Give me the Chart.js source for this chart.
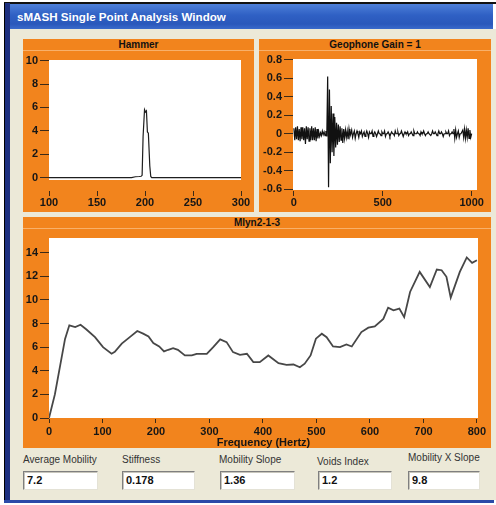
<!doctype html>
<html lang="en">
<head>
<meta charset="utf-8">
<title>sMASH Single Point Analysis Window</title>
<script src="https://cdn.jsdelivr.net/npm/chart.js@4.4.1/dist/chart.umd.min.js"></script>
<style>
  html, body { margin: 0; padding: 0; background: #fff; }
  body { position: relative; width: 496px; height: 505px; overflow: hidden; font-family: "Liberation Sans", Arial, sans-serif; }
  .abs { position: absolute; }
  #frameTop { left: 4px; top: 2px; width: 492px; height: 2px; background: #111; }
  #frameLeft { left: 4px; top: 3px; width: 6px; height: 500px; background: #1d3080; border-left: 1px solid #000; box-sizing: border-box; }
  #frameBottom { left: 4px; top: 500px; width: 490px; height: 3px; background: #2b4aa8; }
  #client { left: 10px; top: 29px; width: 486px; height: 471px; background: #ece9d8; }
  #titlebar { left: 10px; top: 4px; width: 483px; height: 25px; background: linear-gradient(to bottom, #4d7fd8, #2f60c4 45%, #2a58bb 80%, #3a6acb); color: #fff; font-weight: bold; font-size: 11.6px; line-height: 25px; padding-left: 7px; box-sizing: border-box; }
  .panel { background: #f2841d; }
  .ptitle { height: 11px; line-height: 12px; border-bottom: 1px solid #f8b06a; font-size: 10px; font-weight: bold; text-align: center; color: #111; }
  canvas { position: absolute; }
  .flabel { font-size: 10px; color: #333; line-height: 12px; white-space: nowrap; }
  .fbox { height: 19px; background: #fff; box-sizing: border-box; border: 1px solid; border-color: #7f7f7f #e4e2d6 #e4e2d6 #7f7f7f; box-shadow: inset 1px 1px 0 #c8c6bc; font-size: 11px; font-weight: bold; color: #111; line-height: 17px; padding-left: 3px; }
</style>
</head>
<body>
<div class="abs" id="client"></div>
<div class="abs" id="frameTop"></div>
<div class="abs" id="frameLeft"></div>
<div class="abs" id="frameBottom"></div>
<div class="abs" id="titlebar">sMASH Single Point Analysis Window</div>

<!-- panels -->
<div class="abs panel" style="left:23px; top:39px; width:231px; height:173px;"><div class="ptitle">Hammer</div></div>
<div class="abs panel" style="left:259px; top:39px; width:232px; height:173px;"><div class="ptitle">Geophone Gain = 1</div></div>
<div class="abs panel" style="left:23px; top:217px; width:468px; height:231px;"><div class="ptitle">Mlyn2-1-3</div></div>

<canvas id="hammer" width="231" height="162" style="left:23px; top:50px;"></canvas>
<canvas id="geo" width="232" height="162" style="left:259px; top:50px;"></canvas>
<canvas id="mlyn" width="468" height="220" style="left:23px; top:228px;"></canvas>

<!-- result fields -->
<div class="abs flabel" style="left:23px; top:454px;">Average Mobility</div>
<div class="abs flabel" style="left:122px; top:454px;">Stiffness</div>
<div class="abs flabel" style="left:219px; top:454px;">Mobility Slope</div>
<div class="abs flabel" style="left:317px; top:456px;">Voids Index</div>
<div class="abs flabel" style="left:408px; top:452px;">Mobility X Slope</div>
<div class="abs fbox" style="left:23px; top:471px; width:75px;">7.2</div>
<div class="abs fbox" style="left:122px; top:471px; width:73px;">0.178</div>
<div class="abs fbox" style="left:220px; top:471px; width:75px;">1.36</div>
<div class="abs fbox" style="left:318px; top:471px; width:74px;">1.2</div>
<div class="abs fbox" style="left:408px; top:471px; width:72px;">9.8</div>

<script>
// hammer impulse
const hammerX = [100, 186, 190, 194, 196, 197, 198, 199.5, 200.5, 201.5, 202.5, 203.5, 205, 206, 207, 300];
const hammerY = [0, 0, 0.08, 0.1, 0.12, 0.2, 3.5, 5.8, 5.6, 5.7, 3.9, 3.8, 1.0, 0.1, 0, 0];
const hammerXTicks = [100, 150, 200, 250, 300];
const hammerYTicks = [0, 2, 4, 6, 8, 10];

// geophone trace, one sample every 5 units from 0
const geoStep = 5;
const geoY = [
  0.06, -0.07, 0.07, -0.06, 0.08, -0.07, 0.05, -0.08, 0.07, -0.06,
  0.07, -0.07, 0.06, -0.11, 0.08, -0.06, 0.07, -0.08, 0.06, -0.07,
  0.08, -0.07, 0.06, -0.07, 0.07, -0.08, 0.05, -0.05, 0.02, -0.03,
  0.01, -0.02, 0.03, -0.01, 0.02, -0.02, 0.03, -0.03, 0.62, -0.58,
  0.48, -0.32, 0.3, -0.2, 0.22, -0.24, 0.18, -0.15, 0.12, -0.12,
  0.1, -0.09, 0.08, -0.07, 0.06, -0.1, 0.05, -0.05, 0.04, -0.04,
  0.03, -0.06, 0.05, -0.03, 0, 0.04, -0.04, 0, 0.03, -0.05,
  0, 0.03, 0, -0.04, 0.02, 0, 0.03, -0.03, 0, 0.02,
  -0.03, 0, 0.03, 0, -0.04, 0.02, 0, 0, 0.03, -0.03,
  0, 0.02, 0, -0.03, 0, 0.03, 0, 0, -0.02, 0.02,
  0, 0, 0.03, -0.03, 0, 0, 0.02, 0, -0.03, 0,
  0.02, 0, 0, -0.02, 0.03, 0, 0, 0.02, -0.02, 0,
  0, 0.03, 0, -0.03, 0, 0.02, 0, 0, 0.02, -0.02,
  0, 0, 0.02, 0, -0.02, 0.03, 0, 0, 0, 0.02,
  0, 0, -0.02, 0.02, 0, 0, 0.03, 0, -0.02, 0,
  0, 0.02, 0, 0, -0.02, 0, 0.03, 0, 0, 0.02,
  0, -0.02, 0, 0.03, 0, 0, 0.02, 0, -0.03, 0,
  0, 0.02, 0, 0, 0.03, -0.02, 0, 0, 0.02, 0,
  0.05, -0.05, 0.04, -0.04, 0, 0.03, -0.04, 0, 0, 0,
  0.04, -0.04, 0.05, -0.05, 0.04, -0.04, 0.06, -0.05, 0.04, -0.04,
  0
];
const geoXTicks = [0, 500, 1000];
const geoYTicks = [-0.6, -0.4, -0.2, 0, 0.2, 0.4, 0.6, 0.8];

// mobility spectrum
const mlynFreq = [0, 11, 30, 38, 49, 59, 70, 86, 101, 117,
  123, 136, 151, 165, 176, 186, 195, 206, 215, 223,
  232, 241, 254, 267, 276, 295, 307, 320, 332, 344,
  357, 370, 382, 394, 410, 429, 444, 457, 469, 478,
  489, 499, 510, 519, 531, 544, 556, 566, 584, 597,
  609, 625, 634, 644, 655, 664, 675, 693, 712, 725,
  734, 743, 751, 768, 781, 791, 800];
const mlynMob = [0, 2.0, 6.7, 7.85, 7.7, 7.9, 7.5, 6.85, 6.0, 5.45,
  5.6, 6.3, 6.85, 7.37, 7.15, 6.9, 6.35, 6.06, 5.64, 5.78,
  5.92, 5.78, 5.3, 5.3, 5.44, 5.44, 6.0, 6.66, 6.43, 5.58,
  5.35, 5.44, 4.73, 4.73, 5.3, 4.64, 4.5, 4.53, 4.3, 4.6,
  5.3, 6.72, 7.14, 6.85, 6.06, 6.0, 6.23, 6.06, 7.28, 7.65,
  7.76, 8.4, 9.35, 9.12, 9.27, 8.55, 10.68, 12.38, 11.1, 12.58,
  12.52, 11.96, 10.2, 12.38, 13.6, 13.15, 13.37];
const mlynXTicks = [0, 100, 200, 300, 400, 500, 600, 700, 800];
const mlynYTicks = [0, 2, 4, 6, 8, 10, 12, 14];

const FONT = '"Liberation Sans", Arial, sans-serif';
const tickFont = { family: FONT, size: 11, weight: 'bold' };

// white plot area
const plotBg = {
  id: 'plotBg',
  beforeDraw(chart) {
    const a = chart.chartArea, ctx = chart.ctx;
    ctx.save();
    ctx.fillStyle = '#fff';
    ctx.fillRect(a.left, a.top, a.right - a.left, a.bottom - a.top);
    ctx.restore();
  }
};

function makeChart(id, o) {
  const pts = o.xs.map((x, i) => ({ x: x, y: o.ys[i] }));
  return new Chart(document.getElementById(id), {
    type: 'line',
    data: { datasets: [{ data: pts, borderColor: o.color, borderWidth: o.width, pointRadius: 0, tension: 0, fill: false }] },
    options: {
      responsive: false, animation: false, devicePixelRatio: 1, events: [],
      layout: { padding: o.pad },
      plugins: { legend: { display: false }, tooltip: { enabled: false } },
      scales: {
        x: {
          type: 'linear', min: o.xMin, max: o.xMax,
          afterBuildTicks: s => { s.ticks = o.xTicks.map(v => ({ value: v })); },
          afterFit: s => { s.height = o.xH; },
          border: { display: false },
          grid: { drawOnChartArea: false, tickLength: o.xGap + o.xMark, tickColor: '#3b2a18', tickWidth: 1, tickBorderDash: [0, o.xGap, o.xMark, 100] },
          ticks: { color: '#161616', font: tickFont, padding: o.xPad, maxRotation: 0, autoSkip: false, callback: v => String(v) },
          title: o.xTitle ? { display: true, text: o.xTitle, color: '#161616', font: { family: FONT, size: 11, weight: 'bold', lineHeight: 1 }, padding: 0 } : { display: false }
        },
        y: {
          type: 'linear', min: o.yMin, max: o.yMax,
          afterBuildTicks: s => { s.ticks = o.yTicks.map(v => ({ value: v })); },
          afterFit: s => { s.width = o.yW; },
          border: { display: false },
          grid: { drawOnChartArea: false, tickLength: 9, tickColor: '#3b2a18', tickWidth: 1 },
          ticks: { color: '#161616', font: tickFont, padding: 2, autoSkip: false, callback: v => String(v) }
        }
      }
    },
    plugins: [plotBg]
  });
}

makeChart('hammer', {
  xs: hammerX, ys: hammerY, color: '#1e1e1e', width: 1.2,
  xMin: 100, xMax: 300, yMin: -0.2, yMax: 10.05,
  xTicks: hammerXTicks, yTicks: hammerYTicks,
  pad: { left: 0, top: 10, right: 13, bottom: 0 },
  yW: 26, xH: 32, xGap: 11, xMark: 5, xPad: 0
});

makeChart('geo', {
  xs: geoY.map((_, i) => i * geoStep), ys: geoY, color: '#111', width: 1.2,
  xMin: -5, xMax: 1030, yMin: -0.61, yMax: 0.81,
  xTicks: geoXTicks, yTicks: geoYTicks,
  pad: { left: 0, top: 9, right: 14, bottom: 0 },
  yW: 34, xH: 22, xGap: 1, xMark: 5, xPad: 0
});

makeChart('mlyn', {
  xs: mlynFreq, ys: mlynMob, color: '#474747', width: 1.8,
  xMin: 0, xMax: 802, yMin: 0, yMax: 15.25,
  xTicks: mlynXTicks, yTicks: mlynYTicks,
  pad: { left: 0, top: 10, right: 13, bottom: 0 },
  yW: 26, xH: 30, xGap: 1, xMark: 4, xPad: 2,
  xTitle: 'Frequency (Hertz)'
});
</script>
</body>
</html>
